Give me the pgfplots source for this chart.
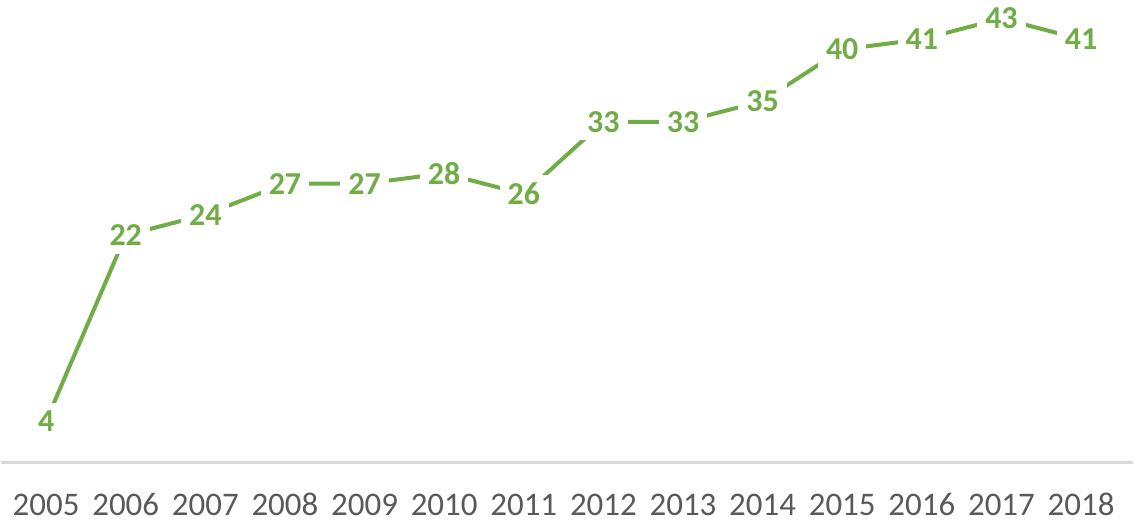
\documentclass[border=0pt]{standalone}
\usepackage{pgfplots}
\pgfplotsset{compat=1.18}
\usepackage{fontspec}
\setmainfont{Carlito}
\definecolor{grn}{HTML}{70AD47}
\definecolor{txt}{HTML}{595959}
\definecolor{axc}{HTML}{D9D9D9}
\begin{document}
\begin{tikzpicture}
\begin{axis}[
    width=567pt, height=233.5pt, scale only axis,
    xmin=-0.564, xmax=13.65, ymin=0, ymax=45.15,
    axis y line=none, axis x line*=bottom,
    x axis line style={draw=axc, line width=1.2pt, -},
    xtick={0,...,13},
    xticklabels={2005,2006,2007,2008,2009,2010,2011,2012,2013,2014,2015,2016,2017,2018},
    major tick length=0pt,
    tick label style={font=\fontsize{16.5}{19}\selectfont, text=txt},
    xticklabel style={anchor=north, text height=11pt, text depth=0pt, yshift=-12pt},
    clip=false,
    /pgf/number format/assume math mode=true,
    nodes near coords,
    every node near coord/.append style={anchor=center,
      font=\bfseries\fontsize{16}{19}\selectfont, text=grn, fill=white, inner sep=4pt},
  ]
  \addplot[grn, line width=2pt, mark=none] coordinates {
    (0,4) (1,22) (2,24) (3,27) (4,27) (5,28) (6,26)
    (7,33) (8,33) (9,35) (10,40) (11,41) (12,43) (13,41)};
\end{axis}
\end{tikzpicture}
\end{document}
